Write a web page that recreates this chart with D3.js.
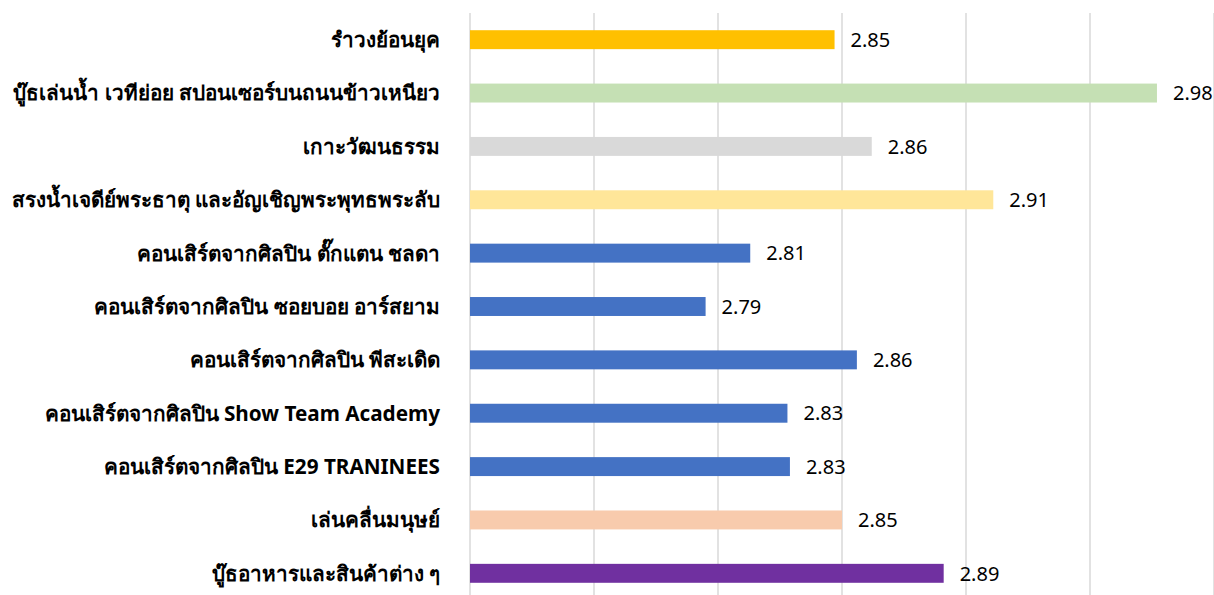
<!DOCTYPE html>
<html>
<head>
<meta charset="utf-8">
<script src="https://cdn.jsdelivr.net/npm/d3@7"></script>
<style>
  body { margin: 0; background: #fff; }
  text { font-family: Tahoma, "Noto Sans", "DejaVu Sans", sans-serif; }
</style>
</head>
<body>
<div id="root"></div>
<script>
// DATA
const categories = [
  "รำวงย้อนยุค",
  "บู๊ธเล่นน้ำ เวทีย่อย สปอนเซอร์บนถนนข้าวเหนียว",
  "เกาะวัฒนธรรม",
  "สรงน้ำเจดีย์พระธาตุ และอัญเชิญพระพุทธพระลับ",
  "คอนเสิร์ตจากศิลปิน ตั๊กแตน ชลดา",
  "คอนเสิร์ตจากศิลปิน ซอยบอย อาร์สยาม",
  "คอนเสิร์ตจากศิลปิน พีสะเดิด",
  "คอนเสิร์ตจากศิลปิน Show Team Academy",
  "คอนเสิร์ตจากศิลปิน E29 TRANINEES",
  "เล่นคลื่นมนุษย์",
  "บู๊ธอาหารและสินค้าต่าง ๆ"
];
// values as drawn (labels show 2 decimals)
const values = [2.847, 2.977, 2.862, 2.911, 2.813, 2.795, 2.856, 2.828, 2.829, 2.850, 2.891];
const barColors = ["#FFC000", "#C5E0B4", "#D9D9D9", "#FFE699", "#4472C4", "#4472C4",
                   "#4472C4", "#4472C4", "#4472C4", "#F8CBAD", "#7030A0"];
const gridTicks = [2.70, 2.75, 2.80, 2.85, 2.90, 2.95, 3.00];

const W = 1214, H = 595;
const plotLeft = 470, plotRight = 1214, plotTop = 13, plotBottom = 600;

const svg = d3.select('#root').append('svg')
  .attr('width', W).attr('height', H)
  .style('display', 'block');

const x = d3.scaleLinear().domain([2.7, 3.0]).range([plotLeft, plotRight]);
const y = d3.scaleBand().domain(categories).range([plotTop, plotBottom])
  .paddingInner(0.645).paddingOuter(0.3225);

// gridlines
svg.append('g')
  .selectAll('line').data(gridTicks).enter().append('line')
  .attr('x1', d => x(d)).attr('x2', d => x(d))
  .attr('y1', plotTop).attr('y2', H)
  .attr('stroke', '#d9d9d9').attr('stroke-width', 1.5);

// bars
svg.append('g').selectAll('rect').data(values).enter().append('rect')
  .attr('x', x(2.7))
  .attr('y', (d, i) => y(categories[i]))
  .attr('width', d => x(d) - x(2.7))
  .attr('height', y.bandwidth())
  .attr('fill', (d, i) => barColors[i]);

// value labels
svg.append('g').selectAll('text').data(values).enter().append('text')
  .attr('x', d => x(d) + 16)
  .attr('y', (d, i) => y(categories[i]) + y.bandwidth() / 2)
  .attr('dy', '0.36em')
  .style('font-size', '20px')
  .style('fill', '#000')
  .text(d => d.toFixed(2));

// category labels
svg.append('g').selectAll('text').data(categories).enter().append('text')
  .attr('x', 440)
  .attr('y', d => y(d) + y.bandwidth() / 2)
  .attr('dy', '0.36em')
  .attr('text-anchor', 'end')
  .style('font-size', '20.7px')
  .style('font-weight', 'bold')
  .style('fill', '#000')
  .text(d => d);
</script>
</body>
</html>
